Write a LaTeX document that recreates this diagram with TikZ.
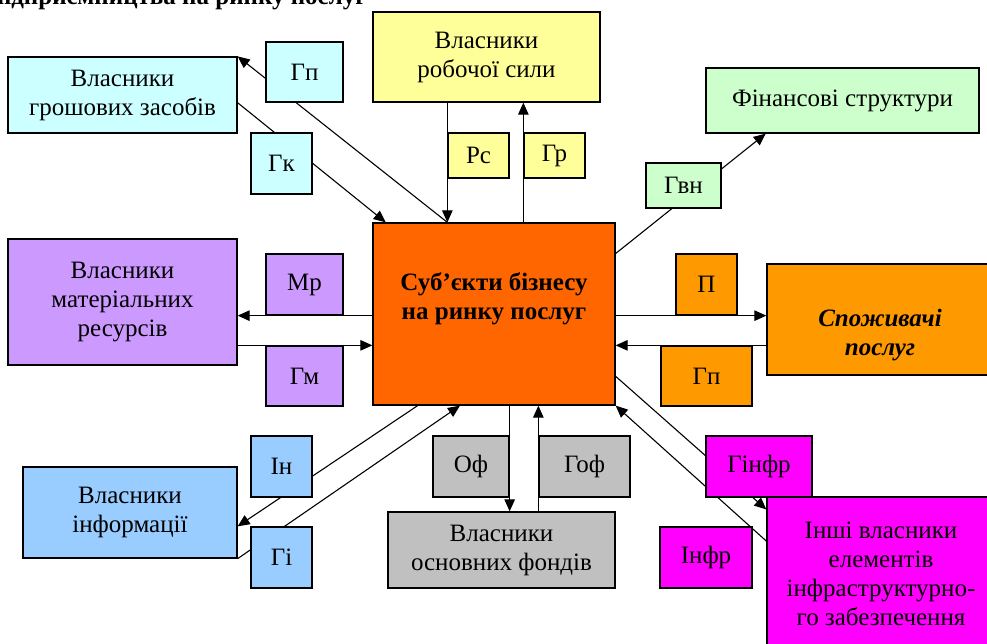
\documentclass[tikz,border=0pt]{standalone}
\usepackage{fontspec}
\setmainfont{Liberation Serif}
\usetikzlibrary{arrows.meta,calc,backgrounds}

\definecolor{cyanbox}{HTML}{CCFFFF}
\definecolor{yellowbox}{HTML}{FFFF99}
\definecolor{greenbox}{HTML}{CCFFCC}
\definecolor{lilacbox}{HTML}{CC99FF}
\definecolor{subjbox}{HTML}{FF6600}
\definecolor{orangebox}{HTML}{FF9900}
\definecolor{bluebox}{HTML}{99CCFF}
\definecolor{greybox}{HTML}{C0C0C0}
\definecolor{magbox}{HTML}{FF00FF}

\tikzset{
  txt/.style={align=center, inner sep=0pt, font=\fontsize{25}{29}\selectfont},
  box/.style={txt, draw, line width=1.3pt},
  conn/.style={line width=1.1pt, -{Triangle[length=12pt,width=10.5pt]}},
}

\begin{document}
\begin{tikzpicture}[x=1pt,y=-1pt]
    \useasboundingbox (0,0) rectangle (987,644);

    % title line, cut off at the top
    \begin{scope}
        \clip (0,0) rectangle (987,644);
        \node[txt, anchor=base east, font=\fontsize{25}{29}\selectfont\bfseries] (title) at (367,5) {підприємництва на ринку послуг};
    \end{scope}

    % centre
    \node[box, fill=subjbox, minimum width=242pt, minimum height=182pt] (subj) at (494,314) {};
    \node[txt, font=\fontsize{25}{29}\selectfont\bfseries] (subjtext) at (494,299) {Суб’єкти бізнесу\\на ринку послуг};

    % owners round the centre
    \node[box, fill=cyanbox, minimum width=229pt, minimum height=76pt] (grosh) at (122.5,95) {Власники\\грошових засобів};
    \node[box, fill=yellowbox, minimum width=227pt, minimum height=90pt] (rob) at (486.5,57) {Власники\\робочої сили};
    \node[box, fill=greenbox, minimum width=273pt, minimum height=65pt] (fin) at (842.5,100.5) {Фінансові структури};
    \node[box, fill=lilacbox, minimum width=229pt, minimum height=126pt] (mat) at (122.5,302) {Власники\\матеріальних\\ресурсів};
    \node[box, fill=orangebox, minimum width=226pt, minimum height=111pt] (cons) at (880,319.5) {};
    \node[txt, font=\fontsize{25}{29}\selectfont\bfseries\itshape] (constext) at (880,335) {Споживачі\\послуг};
    \node[box, fill=bluebox, minimum width=214pt, minimum height=91pt] (inf) at (130,512.5) {Власники\\інформації};
    \node[box, fill=greybox, minimum width=227pt, minimum height=76pt] (osn) at (501.5,550) {Власники\\основних фондів};
    \node[box, fill=magbox, minimum width=228pt, minimum height=153pt] (inshi) at (881,573.5) {Інші власники\\елементів\\інфраструктурно-\\го забезпечення};

    % flow labels
    \node[box, fill=cyanbox, minimum width=77pt, minimum height=60pt] (gp) at (304.5,72) {Гп};
    \node[box, fill=cyanbox, minimum width=61pt, minimum height=61pt] (gk) at (281.5,163.5) {Гк};
    \node[box, fill=yellowbox, minimum width=61pt, minimum height=45pt] (rs) at (478.5,155.5) {Рс};
    \node[box, fill=yellowbox, minimum width=61pt, minimum height=45pt] (gr) at (554.5,155.5) {Гр};
    \node[box, fill=greenbox, minimum width=75pt, minimum height=45pt] (gvn) at (683.5,185.5) {Гвн};
    \node[box, fill=lilacbox, minimum width=77pt, minimum height=61pt] (mr) at (304.5,284.5) {Мр};
    \node[box, fill=lilacbox, minimum width=77pt, minimum height=60pt] (gm) at (304.5,376) {Гм};
    \node[box, fill=orangebox, minimum width=61pt, minimum height=61pt] (pp) at (706.5,284.5) {П};
    \node[box, fill=orangebox, minimum width=91pt, minimum height=60pt] (gpc) at (706.5,376) {Гп};
    \node[box, fill=bluebox, minimum width=61pt, minimum height=61pt] (in) at (281.5,466.5) {Ін};
    \node[box, fill=bluebox, minimum width=61pt, minimum height=61pt] (gi) at (281.5,557.5) {Гі};
    \node[box, fill=greybox, minimum width=76pt, minimum height=61pt] (of) at (471,466.5) {Оф};
    \node[box, fill=greybox, minimum width=91pt, minimum height=61pt] (gof) at (584.5,466.5) {Гоф};
    \node[box, fill=magbox, minimum width=106pt, minimum height=61pt] (ginfr) at (759,466.5) {Гінфр};
    \node[box, fill=magbox, minimum width=92pt, minimum height=61pt] (infr) at (706,557.5) {Інфр};

    % flows, under the boxes
    \begin{pgfonlayer}{background}
        \draw[conn] (rs.south west |- subj.north) -- (grosh.north east);
        \draw[conn] ($(grosh.north east)!0.6!(grosh.south east)$) -- ($(subj.north west)!0.055!(subj.north east)$);
        \draw[conn] (rs.south west |- rob.south) -- (rs.south west |- subj.north);
        \draw[conn] (gr.south west |- subj.north) -- (gr.south west |- rob.south);
        \draw[conn] ($(subj.north east)!0.17!(subj.south east)$) -- ($(fin.south west)!0.22!(fin.south east)$);
        \draw[conn] (subj.west |- mr.south) -- (mat.east |- mr.south);
        \draw[conn] (mat.east |- gm.north) -- (subj.west |- gm.north);
        \draw[conn] (subj.east |- pp.south) -- (cons.west |- pp.south);
        \draw[conn] (cons.west |- gpc.north) -- (subj.east |- gpc.north);
        \draw[conn] ($(subj.north east)!0.84!(subj.south east)$) -- ($(inshi.north west)!0.085!(inshi.south west)$);
        \draw[conn] ($(inshi.north west)!0.29!(inshi.south west)$) -- (subj.south east);
        \draw[conn] (of.south east |- subj.south) -- (of.south east |- osn.north);
        \draw[conn] (gof.south west |- osn.north) -- (gof.south west |- subj.south);
        \draw[conn] ($(subj.south west)!0.186!(subj.south east)$) -- ($(inf.north east)!0.65!(inf.south east)$);
        \draw[conn] (inf.south east) -- ($(subj.south west)!0.36!(subj.south east)$);
    \end{pgfonlayer}
\end{tikzpicture}
\end{document}
